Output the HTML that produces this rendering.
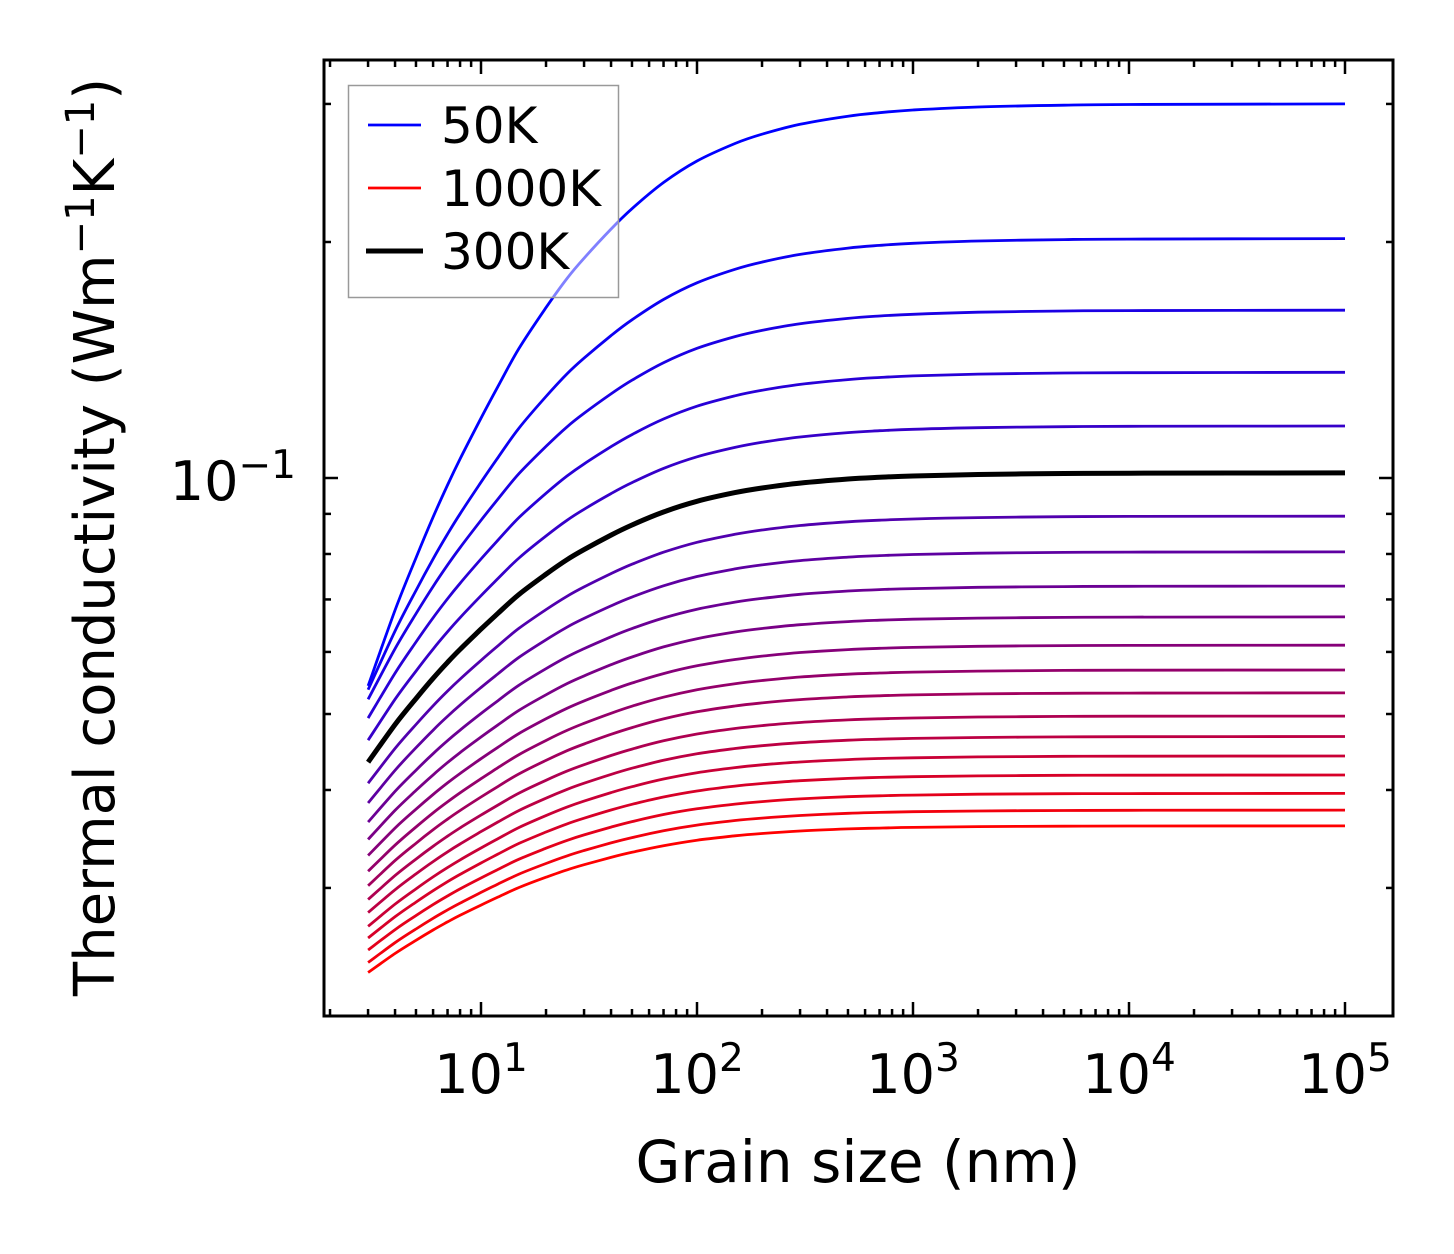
<!DOCTYPE html>
<html><head><meta charset="utf-8"><style>
html,body{margin:0;padding:0;background:#fff;}
svg{display:block;font-family:"DejaVu Sans","Liberation Sans",sans-serif;}
</style></head><body>
<svg id="chart" width="1454" height="1254" viewBox="0 0 1454 1254" xmlns="http://www.w3.org/2000/svg">
<rect width="1454" height="1254" fill="#fff"/>
<g id="curves"></g>
<g id="ticks"></g>
<rect x="324" y="60" width="1069" height="956" fill="none" stroke="#000" stroke-width="3"/>
<g font-size="54" text-anchor="middle">
<text x="481" y="1093">10<tspan dy="-22" font-size="39">1</tspan></text>
<text x="697" y="1093">10<tspan dy="-22" font-size="39">2</tspan></text>
<text x="913" y="1093">10<tspan dy="-22" font-size="39">3</tspan></text>
<text x="1129" y="1093">10<tspan dy="-22" font-size="39">4</tspan></text>
<text x="1345" y="1093">10<tspan dy="-22" font-size="39">5</tspan></text>
</g>
<text x="296" y="500" font-size="54" text-anchor="end">10<tspan dy="-22" font-size="39">−1</tspan></text>
<text x="858" y="1182" font-size="58" text-anchor="middle">Grain size (nm)</text>
<text transform="translate(114,537) rotate(-90)" font-size="56" text-anchor="middle">Thermal conductivity (Wm<tspan dy="-20" font-size="40">−1</tspan><tspan dy="20">K</tspan><tspan dy="-20" font-size="40">−1</tspan><tspan dy="20">)</tspan></text>
<g>
<rect x="348.5" y="85.5" width="270" height="212" fill="rgba(255,255,255,0.5)" stroke="#999" stroke-width="1.5"/>
<line x1="368" y1="125" x2="421" y2="125" stroke="#00f" stroke-width="2.8"/>
<text x="441" y="143" font-size="50">50K</text>
<line x1="368" y1="188" x2="421" y2="188" stroke="#f00" stroke-width="2.8"/>
<text x="441" y="206" font-size="50">1000K</text>
<line x1="366" y1="251" x2="423" y2="251" stroke="#000" stroke-width="5"/>
<text x="441" y="269" font-size="50">300K</text>
</g>
</svg>
<script>
const temperatures = [50,100,150,200,250,300,350,400,450,500,550,600,650,700,750,800,850,900,950,1000];
const kAtLargeGrain = [0.300,0.202,0.1637,0.1364,0.1165,0.1015,0.0894,0.0805,0.0728,0.0665,0.0612,0.0569,0.0532,0.0497,0.0468,0.0442,0.0418,0.0396,0.0377,0.0360];
const kAtSmallGrain = [0.0543,0.0537,0.0522,0.0494,0.0463,0.0434,0.0408,0.0385,0.0364,0.0346,0.0330,0.0315,0.0302,0.0290,0.0279,0.0268,0.0259,0.0250,0.0241,0.0234];
const grainSizes = [3,4,5,6,7,8,10,12,15,20,25,30,40,50,70,100,150,200,300,500,700,1000,2000,5000,10000,100000];
const reductionShape = [1,0.87,0.78,0.71,0.655,0.61,0.54,0.485,0.42,0.35,0.30,0.265,0.215,0.18,0.135,0.098,0.068,0.052,0.035,0.021,0.015,0.0105,0.0053,0.0021,0.001,0];
const yMinorTicks = [0.03,0.04,0.05,0.06,0.07,0.08,0.09,0.2,0.3];

function xScale(g){ return 481 + (Math.log10(g) - 1) * 216; }
function yScale(v){ return 478 - (Math.log10(v) + 1) * 784; }
const NS = "http://www.w3.org/2000/svg";
const curves = document.getElementById('curves');
const order = temperatures.map((t,i)=>i).filter(i=>temperatures[i]!==300).concat([temperatures.indexOf(300)]);
order.forEach(i=>{
  const t = i/(temperatures.length-1);
  const lo = Math.log10(kAtSmallGrain[i]), hi = Math.log10(kAtLargeGrain[i]);
  const pts = grainSizes.map((g,j)=>{
    const v = Math.pow(10, hi - (hi-lo)*reductionShape[j]);
    return [xScale(g), yScale(v)];
  });
  let d = `M${pts[0][0].toFixed(1)},${pts[0][1].toFixed(1)}`;
  for(let k=0;k<pts.length-1;k++){
    const p0=pts[Math.max(k-1,0)],p1=pts[k],p2=pts[k+1],p3=pts[Math.min(k+2,pts.length-1)];
    const c1=[p1[0]+(p2[0]-p0[0])/6,p1[1]+(p2[1]-p0[1])/6];
    const c2=[p2[0]-(p3[0]-p1[0])/6,p2[1]-(p3[1]-p1[1])/6];
    d+=` C${c1[0].toFixed(1)},${c1[1].toFixed(1)} ${c2[0].toFixed(1)},${c2[1].toFixed(1)} ${p2[0].toFixed(1)},${p2[1].toFixed(1)}`;
  }
  const p = document.createElementNS(NS,'path');
  p.setAttribute('d', d);
  p.setAttribute('fill','none');
  const black = temperatures[i]===300;
  p.setAttribute('stroke', black ? '#000' : `rgb(${Math.round(255*t)},0,${Math.round(255*(1-t))})`);
  p.setAttribute('stroke-width', black ? 5 : 2.8);
  
  
  curves.appendChild(p);
});

const ticks = document.getElementById('ticks');
function tick(x1,y1,x2,y2,name){
  const l=document.createElementNS(NS,'line');
  l.setAttribute('x1',x1);l.setAttribute('y1',y1);l.setAttribute('x2',x2);l.setAttribute('y2',y2);
  l.setAttribute('stroke','#000');l.setAttribute('stroke-width',2.5);
  
  
  ticks.appendChild(l);
}
for(let e=0;e<=5;e++){
  for(let m=1;m<=9;m++){
    const g=m*Math.pow(10,e);
    const x=xScale(g);
    if(x<326||x>1391) continue;
    const len = m===1 ? 14 : 7;
    tick(x,1016,x,1016-len,'x-tick');
    tick(x,60,x,60+len,'x-tick-top');
  }
}
tick(324,yScale(0.1),338,yScale(0.1),'y-major-tick');
tick(1393,yScale(0.1),1379,yScale(0.1),'y-major-tick-right');
yMinorTicks.forEach(v=>{
  const y=yScale(v);
  tick(324,y,331,y,'y-minor-tick');
  tick(1393,y,1386,y,'y-minor-tick-right');
});
</script>
</body></html>
